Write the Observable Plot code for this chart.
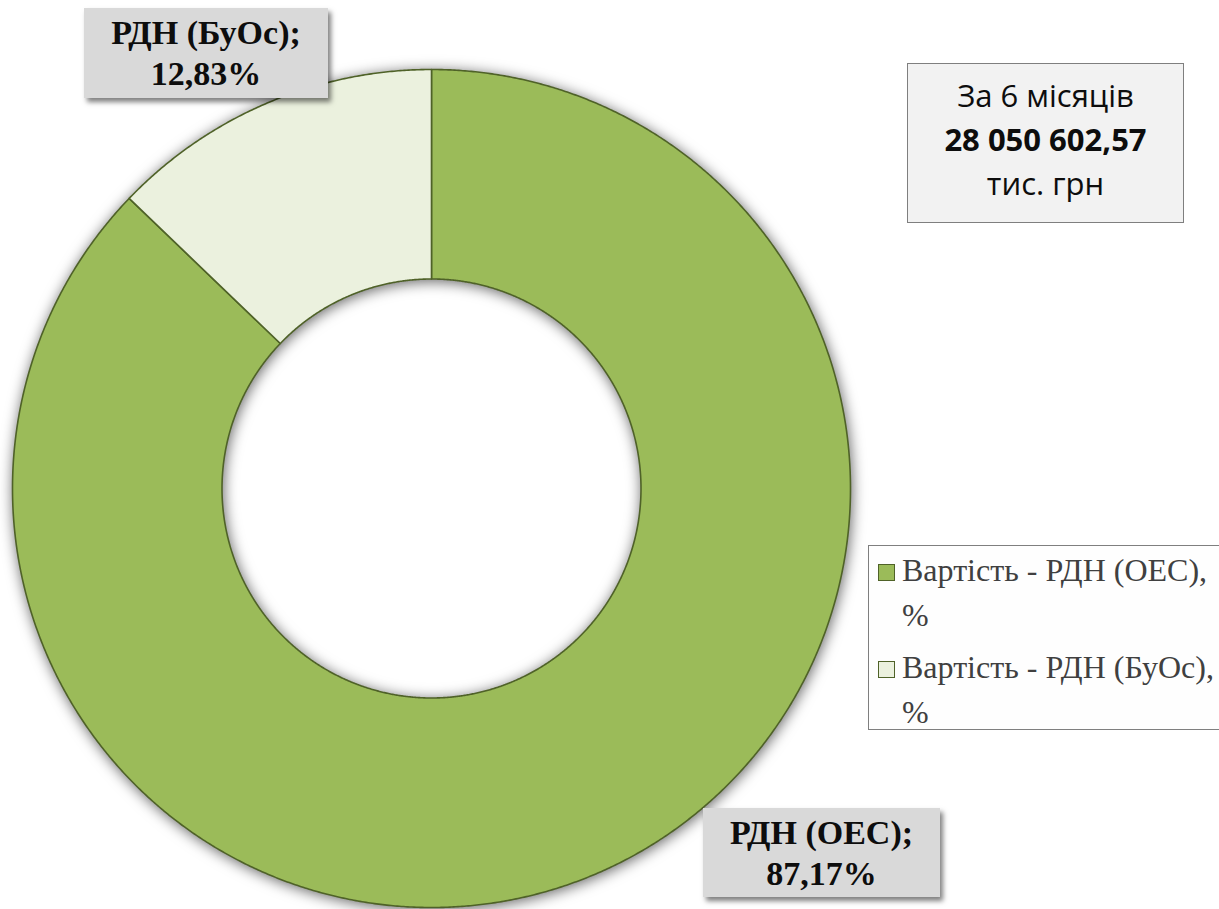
<!DOCTYPE html>
<html>
<head>
<meta charset="utf-8">
<script src="https://cdn.jsdelivr.net/npm/d3@7"></script>
<script src="https://cdn.jsdelivr.net/npm/@observablehq/plot@0.6"></script>
<style>
  html, body { margin: 0; padding: 0; background: #fff; }
  #wrap { position: relative; width: 1219px; height: 909px; overflow: hidden; background: #fff; }
  #wrap svg { position: absolute; left: 0; top: 0; }
  .lbl { position: absolute; background: #d9d9d9; box-shadow: 3px 4px 5px rgba(0,0,0,0.5);
         font-family: "Liberation Serif", "Times New Roman", serif; font-weight: bold; font-size: 34px;
         line-height: 41px; color: #0d0d0d; text-align: center; display: flex; flex-direction: column;
         justify-content: center; }
  #total { position: absolute; left: 907px; top: 63px; width: 275px; height: 150px; padding-bottom: 8px;
           background: #f2f2f2; border: 1.5px solid #7f7f7f; font-family: "Open Sans", "Noto Sans", sans-serif;
           font-size: 31px; line-height: 44px; color: #0d0d0d; text-align: center; display: flex;
           flex-direction: column; justify-content: center; }
  #legend { position: absolute; left: 868px; top: 545px; width: 420px; height: 183px; background: #fefefe;
            border: 1.5px solid #7f7f7f; font-family: "Liberation Serif", "Times New Roman", serif;
            font-size: 32px; line-height: 45px; color: #404040; }
  .item { position: absolute; left: 0; }
  .sw { position: absolute; left: 9px; top: 16px; width: 15px; height: 15px; border: 1.5px solid #4f6228; }
  .txt { position: absolute; left: 33px; top: 0; white-space: pre; font-family: "Liberation Serif", "Times New Roman", serif; }
</style>
</head>
<body>
<div id="wrap"></div>
<script>
// ---- data ----
const categories = ["РДН (ОЕС)", "РДН (БуОс)"];
const values = [87.17, 12.83];
const colors = ["#9bbb59", "#ebf1de"];
const legendLabels = ["Вартість - РДН (ОЕС), %", "Вартість - РДН (БуОс), %"];
const totalLines = ["За 6 місяців", "28 050 602,57", "тис. грн"];

// ---- geometry from data (planar, unit radius) ----
const holeRatio = 0.5;
const arcs = d3.pie().sort(null).value(d => d)(values);
function ringCoords(a0, a1) {
  const n = Math.max(2, Math.ceil((a1 - a0) / 0.005));
  const pts = [];
  for (let i = 0; i <= n; i++) { const a = a0 + (a1 - a0) * i / n; pts.push([Math.sin(a), Math.cos(a)]); }
  for (let i = n; i >= 0; i--) { const a = a0 + (a1 - a0) * i / n; pts.push([holeRatio * Math.sin(a), holeRatio * Math.cos(a)]); }
  pts.push(pts[0]);
  return pts;
}
const slices = arcs.map((a, i) => ({
  type: "Feature",
  properties: {name: categories[i], value: values[i]},
  geometry: {type: "Polygon", coordinates: [ringCoords(a.startAngle, a.endAngle)]}
}));

const chart = Plot.plot({
  width: 1219,
  height: 909,
  marginLeft: 12,
  marginRight: 369,
  marginTop: 69,
  marginBottom: 2,
  style: {overflow: "visible", background: "transparent"},
  projection: {type: "reflect-y", domain: {type: "MultiPoint", coordinates: [[-1, -1], [1, 1]]}},
  color: {type: "ordinal", domain: categories, range: colors},
  marks: [
    Plot.geo(slices, {fill: d => d.properties.name, stroke: "#4f6228", strokeWidth: 1.6})
  ]
});
d3.select(chart).selectAll("g[aria-label='geo']").style("filter", "drop-shadow(1px 2px 7px rgba(0,0,0,0.6))");

const wrap = document.getElementById("wrap");
wrap.appendChild(chart);

// ---- data labels ----
const fmt = v => v.toFixed(2).replace(".", ",") + "%";
const labelBoxes = [
  {left: 703, top: 808, width: 237, height: 89},
  {left: 84, top: 8, width: 244, height: 90}
];
categories.forEach((c, i) => {
  const b = labelBoxes[i];
  const div = document.createElement("div");
  div.className = "lbl";
  Object.assign(div.style, {left: b.left + "px", top: b.top + "px", width: b.width + "px", height: b.height + "px"});
  div.innerHTML = `<div>${c};</div><div>${fmt(values[i])}</div>`;
  wrap.appendChild(div);
});

// ---- total box ----
const total = document.createElement("div");
total.id = "total";
total.innerHTML = totalLines.map((t, i) => `<div style="font-weight:${i === 1 ? 700 : 400}">${t}</div>`).join("");
wrap.appendChild(total);

// ---- legend ----
const legend = document.createElement("div");
legend.id = "legend";
legendLabels.forEach((l, i) => {
  const it = document.createElement("div");
  it.className = "item";
  it.style.top = (2 + i * 97) + "px";
  it.innerHTML = `<div class="sw" style="background:${colors[i]}"></div><div class="txt">${l.replace(", %", ",\n%")}</div>`;
  legend.appendChild(it);
});
wrap.appendChild(legend);
</script>
</body>
</html>
